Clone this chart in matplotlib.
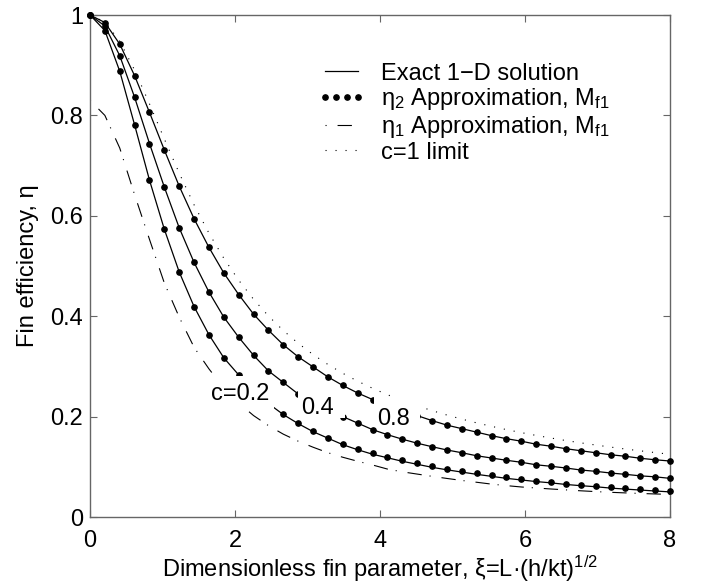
import numpy as np
import matplotlib
matplotlib.use('Agg')
import matplotlib.pyplot as plt
from matplotlib.patches import Rectangle

plt.rcParams['font.family'] = ['Liberation Sans', 'DejaVu Sans']
plt.rcParams['mathtext.fontset'] = 'custom'
plt.rcParams['mathtext.rm'] = 'Liberation Sans'
plt.rcParams['mathtext.it'] = 'Liberation Sans:italic'
plt.rcParams['mathtext.bf'] = 'Liberation Sans:bold'
plt.rcParams['lines.scale_dashes'] = False

# dimensionless fin parameter (40 evenly spaced points 0..8)
xi = np.linspace(0, 8, 40)

# exact 1-D solution (eta2 dots sit on these for c=0.8 and c=0.4)
eta_c08 = [1.000, 0.985, 0.942, 0.879, 0.806, 0.731, 0.659, 0.594, 0.537, 0.486,
           0.443, 0.404, 0.372, 0.343, 0.319, 0.299, 0.279, 0.262, 0.247, 0.234,
           0.223, 0.212, 0.202, 0.192, 0.183, 0.176, 0.169, 0.162, 0.156, 0.151,
           0.145, 0.141, 0.136, 0.132, 0.128, 0.124, 0.121, 0.117, 0.114, 0.1115]
eta_c04 = [1.000, 0.978, 0.919, 0.836, 0.744, 0.657, 0.576, 0.507, 0.448, 0.398,
           0.358, 0.322, 0.291, 0.268, 0.245, 0.227, 0.213, 0.200, 0.187, 0.174,
           0.164, 0.155, 0.147, 0.140, 0.1335, 0.128, 0.122, 0.1175, 0.113, 0.109,
           0.104, 0.101, 0.0976, 0.0936, 0.091, 0.0876, 0.085, 0.082, 0.080, 0.077]
eta_c02 = [1.000, 0.969, 0.888, 0.781, 0.671, 0.573, 0.488, 0.419, 0.363, 0.317,
           0.283, 0.252, 0.226, 0.204, 0.186, 0.170, 0.157, 0.144, 0.134, 0.125,
           0.118, 0.111, 0.105, 0.099, 0.094, 0.0895, 0.085, 0.081, 0.077, 0.0738,
           0.0706, 0.068, 0.0648, 0.0624, 0.0603, 0.0576, 0.0556, 0.0537, 0.0518, 0.050]

# eta2 approximation for c=0.2 (slightly above the exact curve)
eta2_c02 = [1.000, 0.969, 0.888, 0.781, 0.671, 0.573, 0.488, 0.419, 0.363, 0.317,
            0.283, 0.252, 0.226, 0.2046, 0.1866, 0.171, 0.158, 0.145, 0.136, 0.127,
            0.120, 0.1135, 0.107, 0.1015, 0.096, 0.0916, 0.087, 0.083, 0.079, 0.0757,
            0.0724, 0.070, 0.0664, 0.064, 0.062, 0.059, 0.057, 0.055, 0.053, 0.052]

# eta1 approximation for c=0.2
eta1_c02 = [0.830, 0.800, 0.735, 0.642, 0.553, 0.466, 0.398, 0.338, 0.295, 0.257,
            0.227, 0.202, 0.182, 0.165, 0.151, 0.139, 0.128, 0.119, 0.111, 0.1036,
            0.0955, 0.090, 0.0855, 0.081, 0.0768, 0.0728, 0.0692, 0.0655, 0.0625, 0.0598,
            0.0578, 0.0558, 0.054, 0.0522, 0.0506, 0.0492, 0.048, 0.0469, 0.0459, 0.045]

# c=1 limit
eta_lim = [1.000, 0.9862, 0.9477, 0.8902, 0.8230, 0.7529, 0.6849, 0.6217, 0.5653, 0.5153,
           0.4716, 0.4336, 0.4004, 0.3714, 0.3460, 0.3236, 0.3038, 0.2862, 0.2705, 0.2564,
           0.2436, 0.2321, 0.2215, 0.2119, 0.2031, 0.1950, 0.1875, 0.1806, 0.1741, 0.1681,
           0.1625, 0.1573, 0.1523, 0.1477, 0.1434, 0.1393, 0.1354, 0.1318, 0.1283, 0.1250]

curve_labels = ['c=0.2', '0.4', '0.8']
label_xy = [(2.065, 0.233), (3.138, 0.205), (4.19, 0.183)]
# white background behind each label: (x0, y0, width, height) in data units
label_boxes = [(1.669, 0.215, 0.869, 0.066),
               (2.869, 0.197, 0.648, 0.056),
               (3.917, 0.181, 0.635, 0.058)]

legend_labels = ['Exact 1\u2212D solution',
                 '\u03b7$_2$ Approximation, M$_{\\mathrm{f1}}$',
                 '\u03b7$_1$ Approximation, M$_{\\mathrm{f1}}$',
                 'c=1 limit']

fs = 17
fig = plt.figure(figsize=(7.08, 5.86), dpi=100)
ax = fig.add_axes([90/708, 1-517/586, 580/708, 502/586])

h_exact, = ax.plot(xi, eta_c08, 'k-', lw=0.9)
ax.plot(xi, eta_c04, 'k-', lw=0.9)
ax.plot(xi, eta_c02, 'k-', lw=0.9)

h_eta2, = ax.plot(xi, eta_c08, 'ko', ms=3.8, ls='none', clip_on=False, zorder=3)
ax.plot(xi, eta_c04, 'ko', ms=3.8, ls='none', clip_on=False, zorder=3)
ax.plot(xi, eta2_c02, 'ko', ms=3.8, ls='none', clip_on=False, zorder=3)

h_eta1, = ax.plot(xi, eta1_c02, color='k', lw=0.8, ls=(16, (10.3, 5.7, 0.8, 7.9)))
h_lim, = ax.plot(xi, eta_lim, color='k', lw=0.8, ls=(0, (0.8, 6.4)))

for txt, (x, y), (bx, by, bw, bh) in zip(curve_labels, label_xy, label_boxes):
    ax.add_patch(Rectangle((bx, by), bw, bh, fc='white', ec='none', zorder=5))
    ax.text(x, y, txt, fontsize=fs, ha='center', va='baseline', zorder=6)

ax.legend([h_exact, h_eta2, h_eta1, h_lim], legend_labels, loc='upper left',
          bbox_to_anchor=(0.393, 0.905), frameon=False, fontsize=fs,
          handlelength=2.0, handletextpad=0.65, labelspacing=0.07,
          borderpad=0, borderaxespad=0, numpoints=4)

ax.set_xlim(0, 8)
ax.set_ylim(0, 1)
ax.set_xticks([0, 2, 4, 6, 8])
ax.set_yticks([0, 0.2, 0.4, 0.6, 0.8, 1])
ax.set_yticklabels(['0', '0.2', '0.4', '0.6', '0.8', '1'])
ax.tick_params(direction='in', top=True, right=True, length=5, width=0.8,
               color='0.4', labelsize=fs)
ax.tick_params(axis='x', pad=9.5)
ax.tick_params(axis='y', pad=5)
for s in ax.spines.values():
    s.set_color('0.4')
    s.set_linewidth(1.0)

ax.set_xlabel('Dimensionless fin parameter, \u03be=L\u00b7(h/kt)$^{\\mathrm{1/2}}$',
              fontsize=fs, labelpad=1)
ax.set_ylabel('Fin efficiency, \u03b7', fontsize=fs, labelpad=8)

fig.savefig('out.png', dpi=100)
